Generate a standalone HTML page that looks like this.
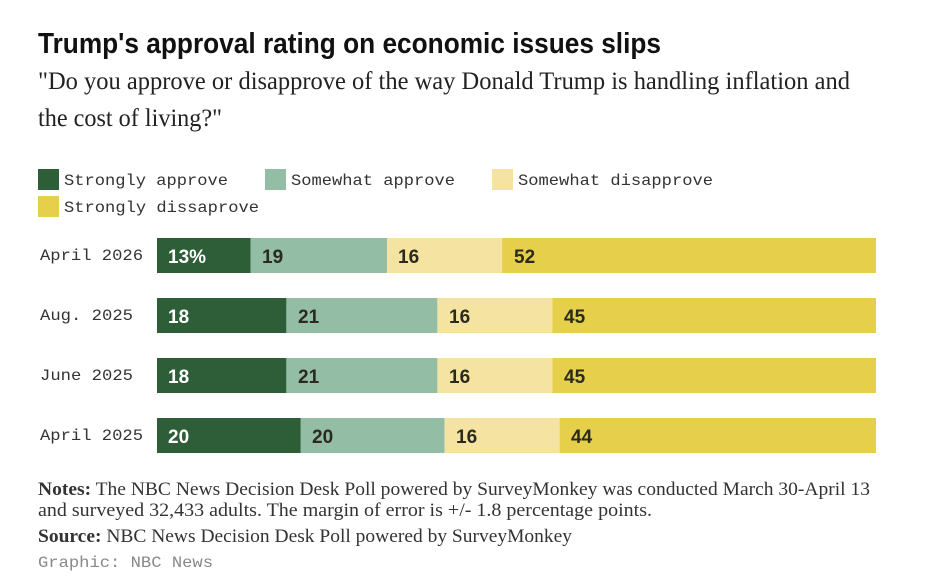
<!DOCTYPE html>
<html><head><meta charset="utf-8"><style>
html,body{margin:0;padding:0;background:#fff;}
svg{display:block;}
.m{font-family:"Liberation Mono",monospace;font-size:16px;fill:#333;}
.v{font-family:"Liberation Sans",sans-serif;font-weight:bold;font-size:19px;fill:#2a2a1e;}
.s{font-family:"Liberation Serif",serif;font-size:19px;fill:#333;}
</style></head><body>
<svg width="925" height="586" xmlns="http://www.w3.org/2000/svg">
<rect width="925" height="586" fill="#fff"/>
<text x="38" y="53" font-family="Liberation Sans, sans-serif" font-weight="bold" font-size="29" fill="#111" textLength="623" lengthAdjust="spacingAndGlyphs">Trump's approval rating on economic issues slips</text>
<text x="38" y="89" font-family="Liberation Serif, serif" font-size="25" fill="#222" textLength="812" lengthAdjust="spacingAndGlyphs">"Do you approve or disapprove of the way Donald Trump is handling inflation and</text>
<text x="38" y="126" font-family="Liberation Serif, serif" font-size="25" fill="#222" textLength="184" lengthAdjust="spacingAndGlyphs">the cost of living?"</text>
<rect x="38" y="169" width="21" height="21" fill="#2e5e37"/>
<text class="m" x="64" y="185" textLength="164" lengthAdjust="spacingAndGlyphs">Strongly approve</text>
<rect x="265" y="169" width="21" height="21" fill="#93bda5"/>
<text class="m" x="291" y="185" textLength="164" lengthAdjust="spacingAndGlyphs">Somewhat approve</text>
<rect x="492" y="169" width="21" height="21" fill="#f5e3a1"/>
<text class="m" x="518" y="185" textLength="195" lengthAdjust="spacingAndGlyphs">Somewhat disapprove</text>
<rect x="38" y="196" width="21" height="21" fill="#e6cf4a"/>
<text class="m" x="64" y="212" textLength="195" lengthAdjust="spacingAndGlyphs">Strongly dissaprove</text>

<g>
<text class="m" x="40" y="260" textLength="103" lengthAdjust="spacingAndGlyphs">April 2026</text>
<rect x="157" y="238" width="93.5" height="35" fill="#2e5e37"/>
<rect x="250.5" y="238" width="136.6" height="35" fill="#93bda5"/>
<rect x="387.1" y="238" width="115" height="35" fill="#f5e3a1"/>
<rect x="502.1" y="238" width="373.9" height="35" fill="#e6cf4a"/>
<text class="v" x="168" y="263" style="fill:#fff">13%</text>
<text class="v" x="262" y="263">19</text>
<text class="v" x="398" y="263">16</text>
<text class="v" x="514" y="263">52</text>
</g>
<g>
<text class="m" x="40" y="320" textLength="93" lengthAdjust="spacingAndGlyphs">Aug. 2025</text>
<rect x="157" y="298" width="129.4" height="35" fill="#2e5e37"/>
<rect x="286.4" y="298" width="151" height="35" fill="#93bda5"/>
<rect x="437.4" y="298" width="115" height="35" fill="#f5e3a1"/>
<rect x="552.4" y="298" width="323.6" height="35" fill="#e6cf4a"/>
<text class="v" x="168" y="323" style="fill:#fff">18</text>
<text class="v" x="298" y="323">21</text>
<text class="v" x="449" y="323">16</text>
<text class="v" x="564" y="323">45</text>
</g>
<g>
<text class="m" x="40" y="380" textLength="93" lengthAdjust="spacingAndGlyphs">June 2025</text>
<rect x="157" y="358" width="129.4" height="35" fill="#2e5e37"/>
<rect x="286.4" y="358" width="151" height="35" fill="#93bda5"/>
<rect x="437.4" y="358" width="115" height="35" fill="#f5e3a1"/>
<rect x="552.4" y="358" width="323.6" height="35" fill="#e6cf4a"/>
<text class="v" x="168" y="383" style="fill:#fff">18</text>
<text class="v" x="298" y="383">21</text>
<text class="v" x="449" y="383">16</text>
<text class="v" x="564" y="383">45</text>
</g>
<g>
<text class="m" x="40" y="440" textLength="103" lengthAdjust="spacingAndGlyphs">April 2025</text>
<rect x="157" y="418" width="143.8" height="35" fill="#2e5e37"/>
<rect x="300.8" y="418" width="143.8" height="35" fill="#93bda5"/>
<rect x="444.6" y="418" width="115" height="35" fill="#f5e3a1"/>
<rect x="559.6" y="418" width="316.4" height="35" fill="#e6cf4a"/>
<text class="v" x="168" y="443" style="fill:#fff">20</text>
<text class="v" x="312" y="443">20</text>
<text class="v" x="456" y="443">16</text>
<text class="v" x="571" y="443">44</text>
</g>

<text class="s" x="38" y="495" textLength="832" lengthAdjust="spacingAndGlyphs"><tspan font-weight="bold">Notes:</tspan> The NBC News Decision Desk Poll powered by SurveyMonkey was conducted March 30-April 13</text>
<text class="s" x="38" y="516" textLength="614" lengthAdjust="spacingAndGlyphs">and surveyed 32,433 adults. The margin of error is +/- 1.8 percentage points.</text>
<text class="s" x="38" y="542" textLength="534" lengthAdjust="spacingAndGlyphs"><tspan font-weight="bold">Source:</tspan> NBC News Decision Desk Poll powered by SurveyMonkey</text>
<text class="m" x="38" y="567" style="fill:#888" textLength="175" lengthAdjust="spacingAndGlyphs">Graphic: NBC News</text>
</svg>
</body></html>
